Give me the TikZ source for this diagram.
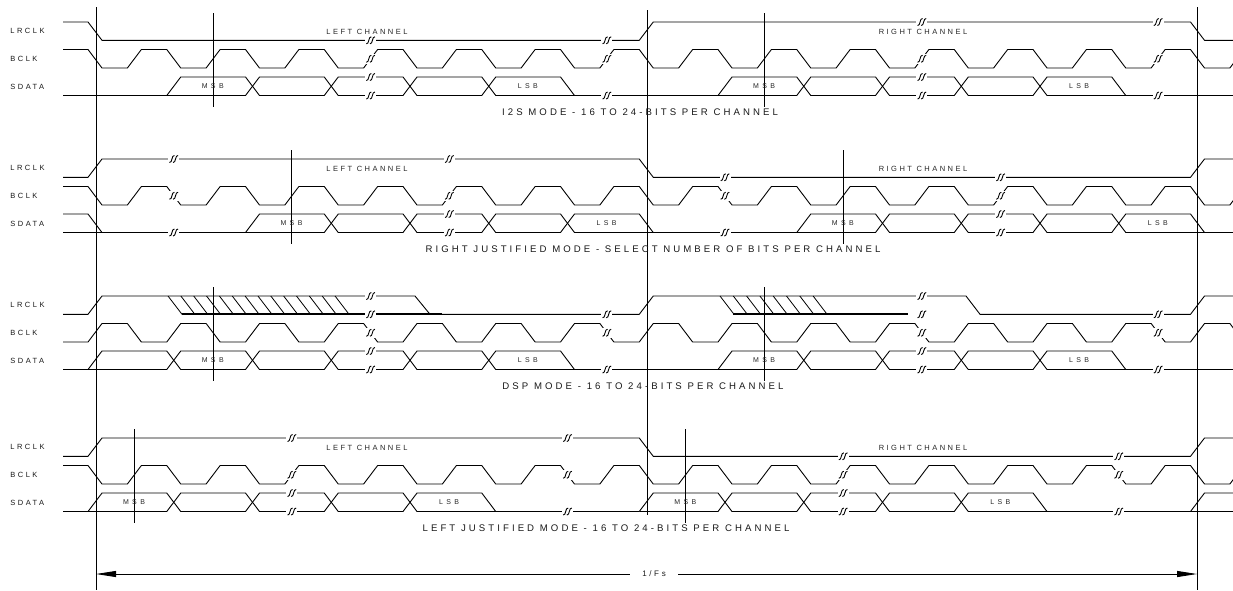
\documentclass[tikz,border=0pt]{standalone}
\usepackage{fontspec}
\newfontfamily\rowfont[LetterSpace=33]{Liberation Sans}
\newfontfamily\bitfont[LetterSpace=48]{Liberation Sans}
\newfontfamily\modefont[LetterSpace=32]{Liberation Sans}
\usepackage{tikz}
\usetikzlibrary{arrows.meta}

% timing grid (px): first edge, bit period, edge width
\def\xo{88}
\def\per{78.75}
\def\edg{14}
% levels inside one mode block
\def\lrH{0}    \def\lrL{18.3}
\def\bcH{27.5} \def\bcL{46}
\def\sdH{55}   \def\sdL{73.5}
\newcommand{\kx}[1]{\xo+(#1)*\per}
% bit clock: #1 start level, #2 other level
\newcommand{\clkrow}[2]{%
  \draw (63,#1) foreach \j in {0,...,29} {
    -- ({\kx{\j/2}},{#1+mod(\j,2)*(#2-#1)})
    -- ({\kx{\j/2}+\edg},{#2-mod(\j,2)*(#2-#1)}) };
}
% data words: #1 high, #2 low, #3 first edge, #4 number of words
\newcommand{\busrun}[4]{%
  \draw ({\kx{#3}},#2) -- ({\kx{#3}+\edg},#1) foreach \j in {1,...,#4} {
    -- ({\kx{#3+\j}},{#1+mod(\j-1,2)*(#2-#1)})
    -- ({\kx{#3+\j}+\edg},{ifthenelse(\j==#4,#2,#1+mod(\j,2)*(#2-#1))}) };
  \draw ({\kx{#3}},#2) foreach \j in {1,...,#4} {
    -- ({\kx{#3+\j}},{#2-mod(\j-1,2)*(#2-#1)})
    -- ({\kx{#3+\j}+\edg},{ifthenelse(\j==#4,#2,#2-mod(\j,2)*(#2-#1))}) };
}
% break mark on an edge
\newcommand{\brkat}[2]{\path ({\kx{#1}+7},#2) pic {brk};}

\begin{document}
\begin{tikzpicture}[
	x=1pt, y=-1pt, line width=0.9pt,
	rowlbl/.style={font=\rowfont\fontsize{7.5}{9}\selectfont, text=black!90, anchor=west, inner sep=0pt},
	chlbl/.style={font=\rowfont\fontsize{7.5}{9}\selectfont, text=black!85, inner sep=0pt},
	bitlbl/.style={font=\bitfont\fontsize{7}{8}\selectfont, text=black!85, inner sep=0pt},
	modelbl/.style={font=\modefont\fontsize{9.6}{11}\selectfont, text=black!90, inner sep=0pt},
	fslbl/.style={font=\rowfont\fontsize{8}{10}\selectfont, text=black!90, inner xsep=12pt},
	brk/.pic={
		\fill[white] (-5.5,-5) rectangle (5.5,5);
		\foreach \d in {-1.8,1.8}
		\draw[line width=0.9pt] ({\d-2.5},3.5) .. controls ({\d+0.5},4.2) and ({\d-0.5},-4.2) .. ({\d+2.5},-3.5);
	}
	]
	\useasboundingbox (0,0) rectangle (1233,590);
	\clip (0,0) rectangle (1233,590);
	
	% long frame lines
	\draw (96,7) -- (96,590);
	\draw (647,10) -- (647,515);
	\draw (1197,7) -- (1197,590);
	
	% I2S mode
	\begin{scope}[shift={(0,22)}]
		\node[rowlbl] (lr1) at (10,9) {LRCLK};
		\node[rowlbl] (bc1) at (10,37) {BCLK};
		\node[rowlbl] (sd1) at (10,64.5) {SDATA};
		\draw (63,\lrH) -- ({\kx{0}},\lrH) -- ({\kx{0}+\edg},\lrL) -- ({\kx{7}},\lrL) -- ({\kx{7}+\edg},\lrH)
		-- ({\kx{14}},\lrH) -- ({\kx{14}+\edg},\lrL) -- (1233,\lrL);
		\clkrow{\bcH}{\bcL}
		\draw (63,\sdL) -- ({\kx{1}},\sdL);
		\busrun{\sdH}{\sdL}{1}{5}
		\draw ({\kx{6}},\sdL) -- ({\kx{8}},\sdL);
		\busrun{\sdH}{\sdL}{8}{5}
		\draw ({\kx{13}},\sdL) -- (1233,\sdL);
		\brkat{3.5}{\lrL} \brkat{6.5}{\lrL} \brkat{10.5}{\lrH} \brkat{13.5}{\lrH}
		\foreach \k in {3.5,6.5,10.5,13.5} {\brkat{\k}{36.75}}
		\brkat{3.5}{\sdH} \brkat{3.5}{\sdL} \brkat{6.5}{\sdL}
		\brkat{10.5}{\sdH} \brkat{10.5}{\sdL} \brkat{13.5}{\sdL}
		\draw ({\kx{1.5}+7},-9) -- ({\kx{1.5}+7},85);
		\draw ({\kx{8.5}+7},-9) -- ({\kx{8.5}+7},85);
		\node[chlbl] (left1) at (367,9.5) {LEFT CHANNEL};
		\node[chlbl] (right1) at (923,9.5) {RIGHT CHANNEL};
		\node[bitlbl] (msb1a) at ({\kx{1}+46},64.5) {MSB};
		\node[bitlbl] (lsb1a) at ({\kx{5}+46},64.5) {LSB};
		\node[bitlbl] (msb1b) at ({\kx{8}+46},64.5) {MSB};
		\node[bitlbl] (lsb1b) at ({\kx{12}+46},64.5) {LSB};
		\node[modelbl] (mode1) at (640,90) {I2S MODE - 16 TO 24-BITS PER CHANNEL};
	\end{scope}
	
	% right justified mode
	\begin{scope}[shift={(0,159)}]
		\node[rowlbl] (lr2) at (10,9) {LRCLK};
		\node[rowlbl] (bc2) at (10,37) {BCLK};
		\node[rowlbl] (sd2) at (10,64.5) {SDATA};
		\draw (63,\lrL) -- ({\kx{0}},\lrL) -- ({\kx{0}+\edg},\lrH) -- ({\kx{7}},\lrH) -- ({\kx{7}+\edg},\lrL)
		-- ({\kx{14}},\lrL) -- ({\kx{14}+\edg},\lrH) -- (1233,\lrH);
		\clkrow{\bcH}{\bcL}
		\draw (63,\sdH) -- ({\kx{0}},\sdH) -- ({\kx{0}+\edg},\sdL);
		\draw (63,\sdL) -- ({\kx{2}},\sdL);
		\busrun{\sdH}{\sdL}{2}{5}
		\draw ({\kx{7}},\sdL) -- ({\kx{9}},\sdL);
		\busrun{\sdH}{\sdL}{9}{5}
		\draw ({\kx{14}},\sdL) -- (1233,\sdL);
		\brkat{1}{\lrH} \brkat{4.5}{\lrH} \brkat{8}{\lrL} \brkat{11.5}{\lrL}
		\foreach \k in {1,4.5,8,11.5} {\brkat{\k}{36.75}}
		\brkat{1}{\sdL} \brkat{4.5}{\sdH} \brkat{4.5}{\sdL}
		\brkat{8}{\sdL} \brkat{11.5}{\sdH} \brkat{11.5}{\sdL}
		\draw ({\kx{2.5}+7},-9) -- ({\kx{2.5}+7},85);
		\draw ({\kx{9.5}+7},-9) -- ({\kx{9.5}+7},85);
		\node[chlbl] (left2) at (367,9.5) {LEFT CHANNEL};
		\node[chlbl] (right2) at (923,9.5) {RIGHT CHANNEL};
		\node[bitlbl] (msb2a) at ({\kx{2}+46},64.5) {MSB};
		\node[bitlbl] (lsb2a) at ({\kx{6}+46},64.5) {LSB};
		\node[bitlbl] (msb2b) at ({\kx{9}+46},64.5) {MSB};
		\node[bitlbl] (lsb2b) at ({\kx{13}+46},64.5) {LSB};
		\node[modelbl] (mode2) at (653,90) {RIGHT JUSTIFIED MODE - SELECT NUMBER OF BITS PER CHANNEL};
	\end{scope}
	
	% DSP mode
	\begin{scope}[shift={(0,296)}]
		\node[rowlbl] (lr3) at (10,9) {LRCLK};
		\node[rowlbl] (bc3) at (10,37) {BCLK};
		\node[rowlbl] (sd3) at (10,64.5) {SDATA};
		\draw (63,\lrL) -- ({\kx{0}},\lrL) -- ({\kx{0}+\edg},\lrH) -- (415,\lrH) -- (430,\lrL)
		-- ({\kx{7}},\lrL) -- ({\kx{7}+\edg},\lrH) -- (966,\lrH) -- (980,\lrL)
		-- ({\kx{14}},\lrL) -- ({\kx{14}+\edg},\lrH) -- (1233,\lrH);
		\foreach \i in {0,...,13} \draw[line width=0.8pt] ({168+\i*12.85},\lrH) -- ({182+\i*12.85},\lrL);
		\foreach \i in {0,...,7} \draw[line width=0.8pt] ({720+\i*13.3},\lrH) -- ({734+\i*13.3},\lrL);
		\draw[line width=2pt] (182,\lrL) -- (442,\lrL);
		\draw[line width=2pt] (733,\lrL) -- (908,\lrL);
		\clkrow{\bcL}{\bcH}
		\draw (63,\sdL) -- ({\kx{0}},\sdL);
		\busrun{\sdH}{\sdL}{0}{6}
		\draw ({\kx{6}},\sdL) -- ({\kx{8}},\sdL);
		\busrun{\sdH}{\sdL}{8}{5}
		\draw ({\kx{13}},\sdL) -- (1233,\sdL);
		\brkat{3.5}{\lrH} \brkat{3.5}{\lrL} \brkat{6.5}{\lrL}
		\brkat{10.5}{\lrH} \brkat{10.5}{\lrL} \brkat{13.5}{\lrL}
		\foreach \k in {3.5,6.5,10.5,13.5} {\brkat{\k}{36.75}}
		\brkat{3.5}{\sdH} \brkat{3.5}{\sdL} \brkat{6.5}{\sdL}
		\brkat{10.5}{\sdH} \brkat{10.5}{\sdL} \brkat{13.5}{\sdL}
		\draw ({\kx{1.5}+7},-9) -- ({\kx{1.5}+7},85);
		\draw ({\kx{8.5}+7},-9) -- ({\kx{8.5}+7},85);
		\node[bitlbl] (msb3a) at ({\kx{1}+46},64.5) {MSB};
		\node[bitlbl] (lsb3a) at ({\kx{5}+46},64.5) {LSB};
		\node[bitlbl] (msb3b) at ({\kx{8}+46},64.5) {MSB};
		\node[bitlbl] (lsb3b) at ({\kx{12}+46},64.5) {LSB};
		\node[modelbl] (mode3) at (643,90) {DSP MODE - 16 TO 24-BITS PER CHANNEL};
	\end{scope}
	
	% left justified mode
	\begin{scope}[shift={(0,438)}]
		\node[rowlbl] (lr4) at (10,9) {LRCLK};
		\node[rowlbl] (bc4) at (10,37) {BCLK};
		\node[rowlbl] (sd4) at (10,64.5) {SDATA};
		\draw (63,\lrL) -- ({\kx{0}},\lrL) -- ({\kx{0}+\edg},\lrH) -- ({\kx{7}},\lrH) -- ({\kx{7}+\edg},\lrL)
		-- ({\kx{14}},\lrL) -- ({\kx{14}+\edg},\lrH) -- (1233,\lrH);
		\clkrow{\bcH}{\bcL}
		\draw (63,\sdL) -- ({\kx{0}},\sdL);
		\busrun{\sdH}{\sdL}{0}{5}
		\draw ({\kx{5}},\sdL) -- ({\kx{7}},\sdL);
		\busrun{\sdH}{\sdL}{7}{5}
		\draw ({\kx{12}},\sdL) -- (1233,\sdL);
		\draw ({\kx{14}},\sdL) -- ({\kx{14}+\edg},\sdH) -- (1233,\sdH);
		\brkat{2.5}{\lrH} \brkat{6}{\lrH} \brkat{9.5}{\lrL} \brkat{13}{\lrL}
		\foreach \k in {2.5,6,9.5,13} {\brkat{\k}{36.75}}
		\brkat{2.5}{\sdH} \brkat{2.5}{\sdL} \brkat{6}{\sdL}
		\brkat{9.5}{\sdH} \brkat{9.5}{\sdL} \brkat{13}{\sdL}
		\draw ({\kx{0.5}+7},-9) -- ({\kx{0.5}+7},85);
		\draw ({\kx{7.5}+7},-9) -- ({\kx{7.5}+7},85);
		\node[chlbl] (left4) at (367,9.5) {LEFT CHANNEL};
		\node[chlbl] (right4) at (923,9.5) {RIGHT CHANNEL};
		\node[bitlbl] (msb4a) at ({\kx{0}+46},64.5) {MSB};
		\node[bitlbl] (lsb4a) at ({\kx{4}+46},64.5) {LSB};
		\node[bitlbl] (msb4b) at ({\kx{7}+46},64.5) {MSB};
		\node[bitlbl] (lsb4b) at ({\kx{11}+46},64.5) {LSB};
		\node[modelbl] (mode4) at (606,90) {LEFT JUSTIFIED MODE - 16 TO 24-BITS PER CHANNEL};
	\end{scope}
	
	% frame period
	\coordinate (fsL) at (96,574);
	\coordinate (fsR) at (1197,574);
	\node[fslbl] (fs) at (654,574) {1/Fs};
	\draw[-{Triangle[length=20pt,width=6pt]}] (fs) -- (fsL);
	\draw[-{Triangle[length=20pt,width=6pt]}] (fs) -- (fsR);
	
\end{tikzpicture}
\end{document}
